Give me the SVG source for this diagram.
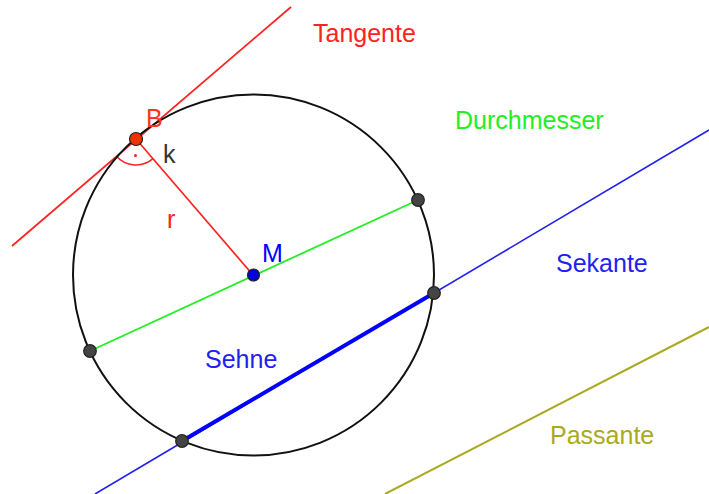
<svg xmlns="http://www.w3.org/2000/svg" width="709" height="494" viewBox="0 0 709 494">
<style>
text{font-family:"Liberation Sans",Arial,sans-serif;font-size:25px}
.pt{stroke:#222;stroke-width:1.2}
</style>
<rect width="709" height="494" fill="#fff"/>
<g id="connectors" fill="none">
<line id="tangente" x1="12" y1="246" x2="291" y2="7" stroke="#ff2222" stroke-width="1.7"/>
<line id="passante" x1="385" y1="494" x2="709" y2="327" stroke="#aaaa22" stroke-width="2"/>
<line id="sekante" x1="95" y1="494" x2="709" y2="130" stroke="#2222ee" stroke-width="1.6"/>
<line id="durchmesser" x1="90" y1="351" x2="418" y2="200" stroke="#22ee22" stroke-width="1.8"/>
<line id="sehne" x1="182" y1="441" x2="434" y2="293" stroke="#0000ff" stroke-width="4"/>
<line id="radius" x1="136" y1="139" x2="253" y2="275" stroke="#ff2222" stroke-width="1.7"/>
<path id="angle" d="M116.3 156 A26 26 0 0 0 153 158.7" stroke="#ff2222" stroke-width="1.6"/>
</g>
<g id="kreis"><circle cx="253.5" cy="275" r="180.5" fill="none" stroke="#111" stroke-width="2"/></g>
<g id="angledot"><circle cx="135.5" cy="155.5" r="1.5" fill="#ff2222"/></g>
<g id="pointD1"><circle class="pt" cx="90" cy="351" r="6.3" fill="#444"/></g>
<g id="pointD2"><circle class="pt" cx="418" cy="200" r="6.3" fill="#444"/></g>
<g id="pointS1"><circle class="pt" cx="182" cy="441" r="6.3" fill="#444"/></g>
<g id="pointS2"><circle class="pt" cx="434" cy="293" r="6.3" fill="#444"/></g>
<g id="pointM"><circle class="pt" cx="253.5" cy="275" r="6" fill="#0000dd"/><text x="262" y="262" fill="#0000ff">M</text></g>
<g id="pointB"><circle class="pt" cx="136" cy="139" r="6.5" fill="#ee3300"/><text x="146" y="127" fill="#ff3322">B</text></g>
<g id="labels">
<text x="163" y="163" fill="#333">k</text>
<text x="167" y="228" fill="#ff2222">r</text>
<text x="313" y="42" fill="#ff2222">Tangente</text>
<text x="455" y="129" fill="#22ee22">Durchmesser</text>
<text x="556" y="272" fill="#2222ee">Sekante</text>
<text x="205" y="368" fill="#2222ee">Sehne</text>
<text x="550" y="444" fill="#aaaa22">Passante</text>
</g>
</svg>
